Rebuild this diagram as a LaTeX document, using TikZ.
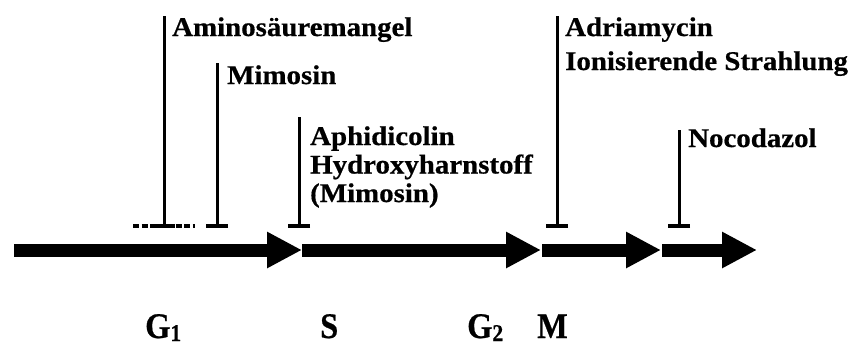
\documentclass[tikz,border=0pt]{standalone}
\usepackage{fontspec}
\setmainfont{Liberation Serif}[FakeStretch=1.07,BoldFeatures={FakeBold=0.6}]
\newfontfamily\phasefont{Liberation Serif}[FakeStretch=0.9,BoldFeatures={FakeBold=0.6}]
\usetikzlibrary{arrows.meta}
\newcommand\phaseidx[1]{\raisebox{-3pt}{\fontsize{24}{24}\selectfont #1}}

\begin{document}
\begin{tikzpicture}[x=1pt,y=-1pt,
    phase/.style={line width=13pt,-{Triangle[width=34pt,length=35pt]}},
    block/.style={line width=3pt,-{Bar[width=22pt,line width=4pt]}},
    drug/.style={anchor=base west,inner sep=0pt,font=\bfseries\fontsize{27}{30}\selectfont},
    stage/.style={anchor=base west,inner sep=0pt,font=\phasefont\bfseries\fontsize{36}{40}\selectfont}]
  \useasboundingbox (0,0) rectangle (856,346);
  % cell cycle
  \path
    (14,250) coordinate (start)
    (302,250) coordinate (gs)
    (542,250) coordinate (sg)
    (662,250) coordinate (gm)
    (757,250) coordinate (stop);
  \draw[phase] (start) -- (gs);
  \draw[phase] (gs) -- ([xshift=-1pt]sg);
  \draw[phase] (sg) -- ([xshift=-1pt]gm);
  \draw[phase] (gm) -- (stop);
  \node[stage] (g1) at (145,338) {G\phaseidx{1}};
  \node[stage] (s) at (320,338) {S};
  \node[stage] (g2) at (467,338) {G\phaseidx{2}};
  \node[stage] (m) at (537,338) {M};
  % inhibitors
  \path
    (164,16) coordinate (amino top) (164,228) coordinate (amino end)
    (217,63) coordinate (mimo top) (217,228) coordinate (mimo end)
    (299,117) coordinate (aphi top) (299,228) coordinate (aphi end)
    (557,16) coordinate (adria top) (557,228) coordinate (adria end)
    (679,130) coordinate (noco top) (679,228) coordinate (noco end)
    (133,226) coordinate (amino left) (195,226) coordinate (amino right);
  \draw[line width=4pt,dash pattern=on 6pt off 2.5pt] (amino left) -- (amino right);
  \begin{scope}[block]
    \draw (amino top) -- (amino end);
    \draw (mimo top) -- (mimo end);
    \draw (aphi top) -- (aphi end);
    \draw (adria top) -- (adria end);
    \draw (noco top) -- (noco end);
  \end{scope}
  \node[drug] (amino) at (172,36) {Aminosäuremangel};
  \node[drug] (mimo) at (227,84) {Mimosin};
  \node[drug] (aphi) at (310,145) {Aphidicolin};
  \node[drug] (hydro) at ([yshift=-28.5pt]aphi.base west) {Hydroxyharnstoff};
  \node[drug] (mimo2) at ([yshift=-28.5pt]hydro.base west) {(Mimosin)};
  \node[drug] (adria) at (565,36) {Adriamycin};
  \node[drug] (ion) at ([yshift=-34pt]adria.base west) {Ionisierende Strahlung};
  \node[drug] (noco) at (688,147) {Nocodazol};
\end{tikzpicture}
\end{document}
